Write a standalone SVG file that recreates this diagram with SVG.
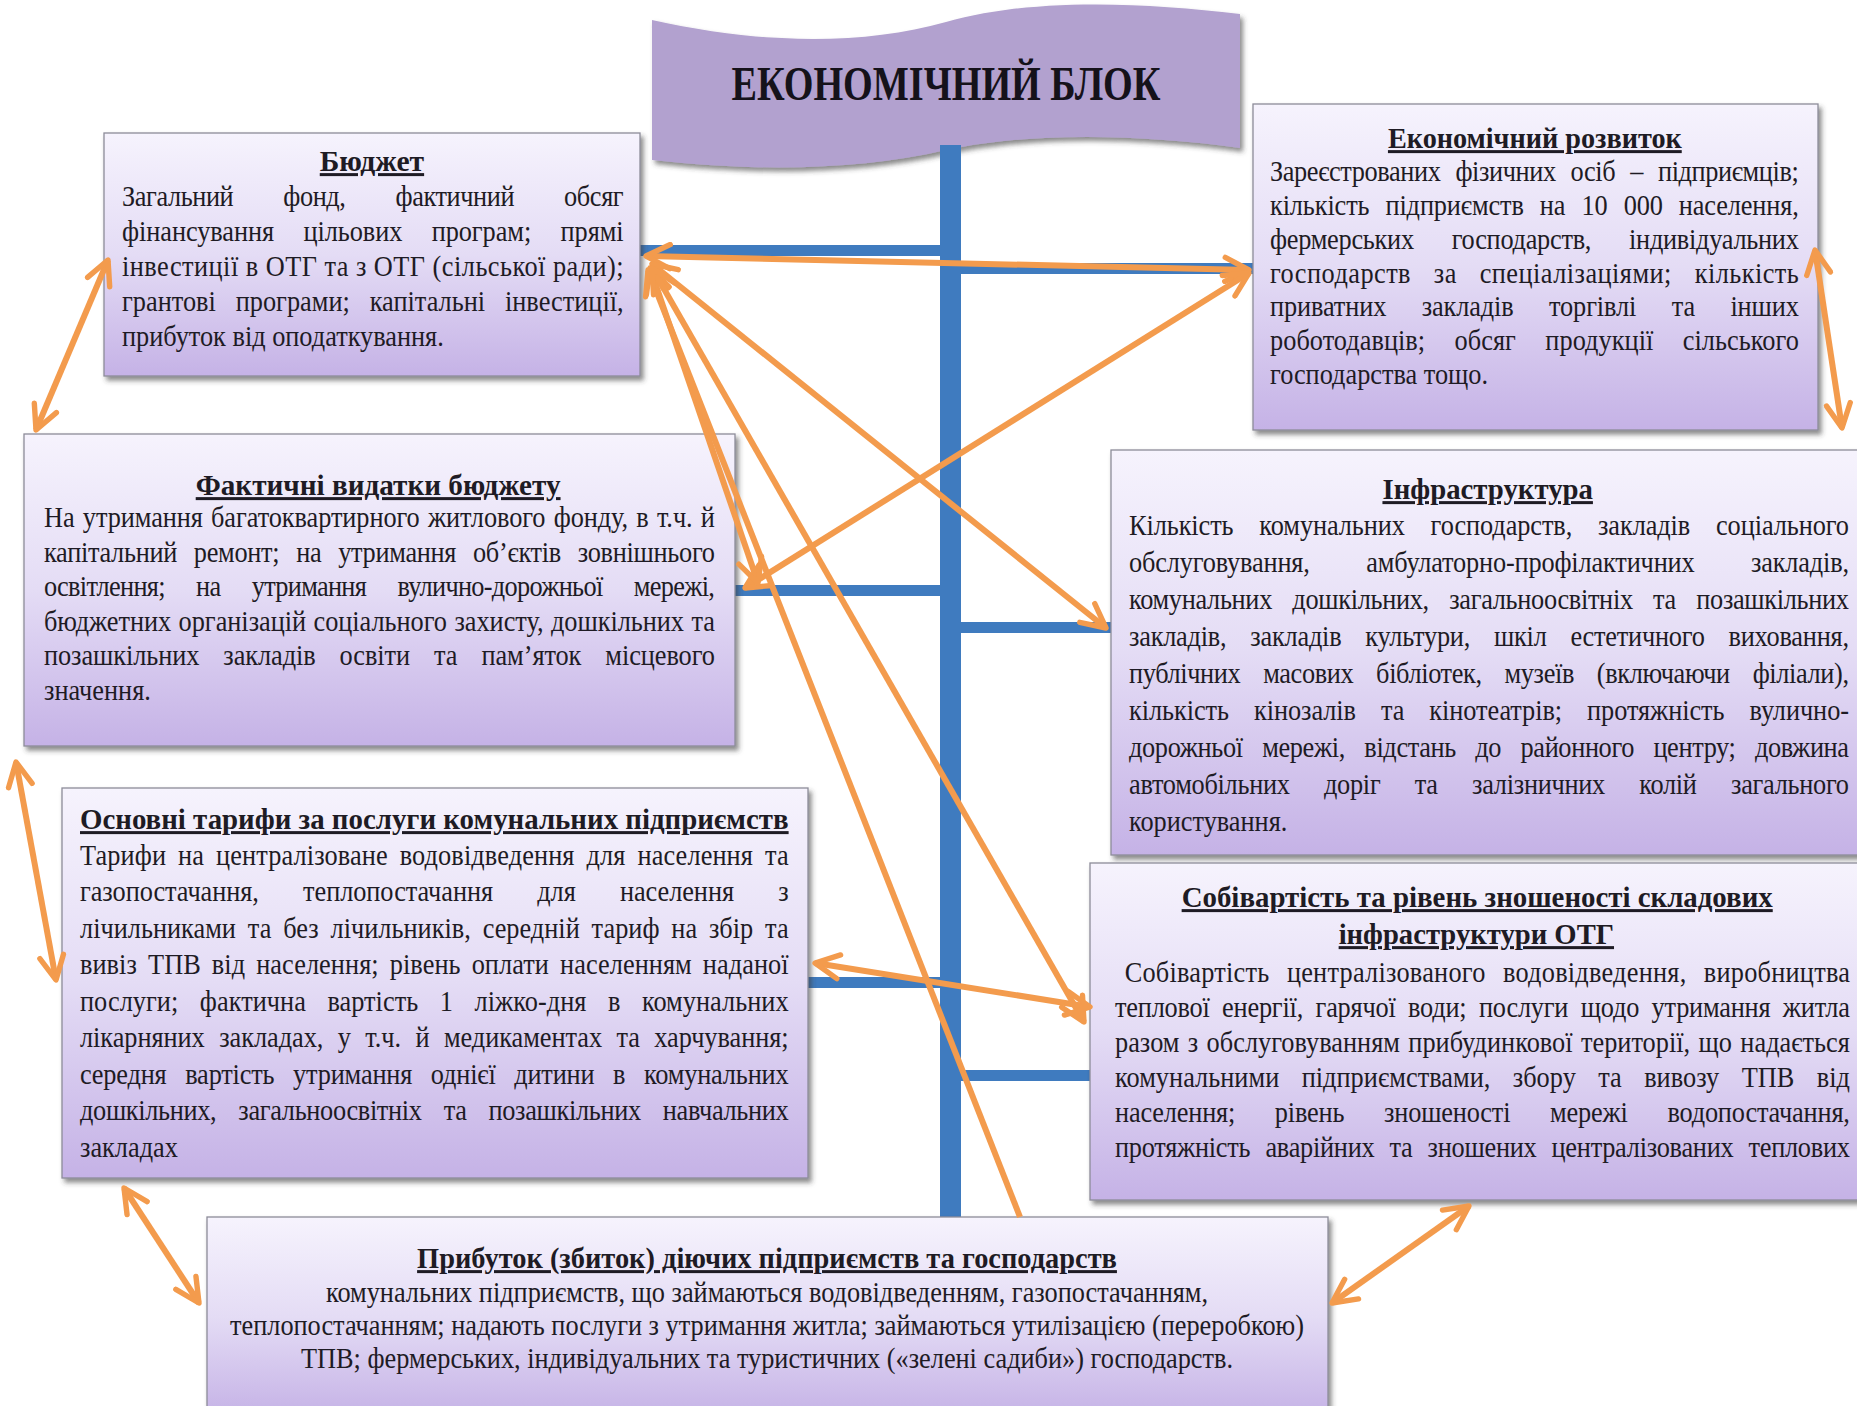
<svg xmlns="http://www.w3.org/2000/svg" width="1857" height="1406" viewBox="0 0 1857 1406">
<defs>
<linearGradient id="boxg" x1="0" y1="0" x2="0" y2="1">
<stop offset="0" stop-color="#f6f3fd"/>
<stop offset="0.5" stop-color="#e4dcf5"/>
<stop offset="1" stop-color="#c5b2e6"/>
</linearGradient>
<filter id="sh" x="-5%" y="-5%" width="112%" height="120%">
<feDropShadow dx="3" dy="4" stdDeviation="2.5" flood-color="#3a3a3a" flood-opacity="0.6"/>
</filter>
<marker id="ah" viewBox="0 0 10 10" refX="9" refY="5" markerWidth="5" markerHeight="5" orient="auto-start-reverse" markerUnits="strokeWidth">
<path d="M1,1 L9,5 L1,9" fill="none" stroke="#f39b4d" stroke-width="1.8" stroke-linecap="round" stroke-linejoin="round"/>
</marker>
<marker id="none" viewBox="0 0 10 10" markerWidth="1" markerHeight="1"/>
</defs>
<style>
.box{fill:url(#boxg);stroke:#8d8c99;stroke-width:1.3;filter:url(#sh)}
.t{font-family:"Liberation Serif","Times New Roman",serif;font-size:30px;fill:#1e1b24}
.h{font-weight:bold;text-decoration:underline}
.blue{fill:#3f7bbf}
.arr{stroke:#f39b4d;stroke-width:6;fill:none;marker-start:url(#ah);marker-end:url(#ah)}
.arr1{stroke:#f39b4d;stroke-width:6;fill:none;marker-start:url(#ah)}
</style>
<rect width="1857" height="1406" fill="#ffffff"/>

<g id="title">
<path d="M652,20 C760,44 860,46 946,22 C1030,-2 1140,2 1240,14 L1240,148 C1140,134 1030,132 946,150 C860,170 760,172 652,160 Z" fill="#b2a1cf" filter="url(#sh)"/>
<text x="946" y="100" text-anchor="middle" font-family="Liberation Serif, Times New Roman, serif" font-size="48" font-weight="bold" fill="#15121a" textLength="429" lengthAdjust="spacingAndGlyphs">ЕКОНОМІЧНИЙ БЛОК</text>
</g>

<g id="spine">
<rect class="blue" x="940" y="145" width="21" height="1075"/>
<rect class="blue" x="640" y="245" width="300" height="11"/>
<rect class="blue" x="961" y="263" width="292" height="11"/>
<rect class="blue" x="735" y="585" width="205" height="11"/>
<rect class="blue" x="961" y="622" width="150" height="11"/>
<rect class="blue" x="808" y="977" width="132" height="11"/>
<rect class="blue" x="961" y="1070" width="129" height="11"/>
</g>

<g id="budget">
<rect class="box" x="104" y="133" width="536" height="243"/>
<g transform="translate(122,0) scale(0.877,1)">
<text class="t h" x="285" y="171" text-anchor="middle" textLength="119" lengthAdjust="spacingAndGlyphs">Бюджет</text>
<text class="t" x="0" y="206" textLength="572" word-spacing="50">Загальний фонд, фактичний обсяг</text>
<text class="t" x="0" y="241" textLength="572" word-spacing="26">фінансування цільових програм; прямі</text>
<text class="t" x="0" y="276" textLength="572">інвестиції в ОТГ та з ОТГ (сільської ради);</text>
<text class="t" x="0" y="311" textLength="572" word-spacing="15">грантові програми; капітальні інвестиції,</text>
<text class="t" x="0" y="346">прибуток від оподаткування.</text>
</g>
</g>

<g id="econ">
<rect class="box" x="1253" y="104" width="565" height="326"/>
<g transform="translate(1270,0) scale(0.877,1)">
<text class="t h" x="302" y="148" text-anchor="middle" textLength="335" lengthAdjust="spacingAndGlyphs">Економічний розвиток</text>
<text class="t" x="0" y="181" textLength="603" word-spacing="10">Зареєстрованих фізичних осіб – підприємців;</text>
<text class="t" x="0" y="215" textLength="603" word-spacing="11">кількість підприємств на 10 000 населення,</text>
<text class="t" x="0" y="249" textLength="603" word-spacing="36">фермерських господарств, індивідуальних</text>
<text class="t" x="0" y="283" textLength="603" word-spacing="18">господарств за спеціалізаціями; кількість</text>
<text class="t" x="0" y="316" textLength="603" word-spacing="33">приватних закладів торгівлі та інших</text>
<text class="t" x="0" y="350" textLength="603" word-spacing="26">роботодавців; обсяг продукції сільського</text>
<text class="t" x="0" y="384">господарства тощо.</text>
</g>
</g>

<g id="actual">
<rect class="box" x="24" y="434" width="711" height="312"/>
<g transform="translate(44,0) scale(0.877,1)">
<text class="t h" x="381" y="495" text-anchor="middle" textLength="416" lengthAdjust="spacingAndGlyphs">Фактичні видатки бюджету</text>
<text class="t" x="0" y="527" textLength="765" word-spacing="2">На утримання багатоквартирного житлового фонду, в т.ч. й</text>
<text class="t" x="0" y="562" textLength="765" word-spacing="12">капітальний ремонт; на утримання об’єктів зовнішнього</text>
<text class="t" x="0" y="596" textLength="765" word-spacing="29">освітлення; на утримання вулично-дорожньої мережі,</text>
<text class="t" x="0" y="631" textLength="765" word-spacing="1">бюджетних організацій соціального захисту, дошкільних та</text>
<text class="t" x="0" y="665" textLength="765" word-spacing="20">позашкільних закладів освіти та пам’яток місцевого</text>
<text class="t" x="0" y="700">значення.</text>
</g>
</g>

<g id="infra">
<rect class="box" x="1111" y="450" width="760" height="405"/>
<g transform="translate(1129,0) scale(0.877,1)">
<text class="t h" x="409" y="499" text-anchor="middle" textLength="240" lengthAdjust="spacingAndGlyphs">Інфраструктура</text>
<text class="t" x="0" y="535" textLength="821" word-spacing="22">Кількість комунальних господарств, закладів соціального</text>
<text class="t" x="0" y="572" textLength="821" word-spacing="57">обслуговування, амбулаторно-профілактичних закладів,</text>
<text class="t" x="0" y="609" textLength="821" word-spacing="16">комунальних дошкільних, загальноосвітніх та позашкільних</text>
<text class="t" x="0" y="646" textLength="821" word-spacing="20">закладів, закладів культури, шкіл естетичного виховання,</text>
<text class="t" x="0" y="683" textLength="821" word-spacing="19">публічних масових бібліотек, музеїв (включаючи філіали),</text>
<text class="t" x="0" y="720" textLength="821" word-spacing="21">кількість кінозалів та кінотеатрів; протяжність вулично-</text>
<text class="t" x="0" y="757" textLength="821" word-spacing="15">дорожньої мережі, відстань до районного центру; довжина</text>
<text class="t" x="0" y="794" textLength="821" word-spacing="32">автомобільних доріг та залізничних колій загального</text>
<text class="t" x="0" y="831">користування.</text>
</g>
</g>

<g id="tariffs">
<rect class="box" x="62" y="788" width="746" height="390"/>
<g transform="translate(80,0) scale(0.877,1)">
<text class="t h" x="0" y="829" textLength="808" lengthAdjust="spacingAndGlyphs">Основні тарифи за послуги комунальних підприємств</text>
<text class="t" x="0" y="865" textLength="808" word-spacing="6">Тарифи на централізоване водовідведення для населення та</text>
<text class="t" x="0" y="901" textLength="808" word-spacing="43">газопостачання, теплопостачання для населення з</text>
<text class="t" x="0" y="938" textLength="808" word-spacing="6">лічильниками та без лічильників, середній тариф на збір та</text>
<text class="t" x="0" y="974" textLength="808" word-spacing="5">вивіз ТПВ від населення; рівень оплати населенням наданої</text>
<text class="t" x="0" y="1011" textLength="808" word-spacing="17">послуги; фактична вартість 1 ліжко-дня в комунальних</text>
<text class="t" x="0" y="1047" textLength="808" word-spacing="9">лікарняних закладах, у т.ч. й медикаментах та харчування;</text>
<text class="t" x="0" y="1084" textLength="808" word-spacing="14">середня вартість утримання однієї дитини в комунальних</text>
<text class="t" x="0" y="1120" textLength="808" word-spacing="18">дошкільних, загальноосвітніх та позашкільних навчальних</text>
<text class="t" x="0" y="1157">закладах</text>
</g>
</g>

<g id="cost">
<rect class="box" x="1090" y="863" width="780" height="337"/>
<g transform="translate(1115,0) scale(0.877,1)">
<text class="t h" x="413" y="907" text-anchor="middle" textLength="674" lengthAdjust="spacingAndGlyphs">Собівартість та рівень зношеності складових</text>
<text class="t h" x="412" y="944" text-anchor="middle" textLength="314" lengthAdjust="spacingAndGlyphs">інфраструктури ОТГ</text>
<text class="t" x="11" y="982" textLength="827" word-spacing="12">Собівартість централізованого водовідведення, виробництва</text>
<text class="t" x="0" y="1017" textLength="838" word-spacing="7">теплової енергії, гарячої води; послуги щодо утримання житла</text>
<text class="t" x="0" y="1052" textLength="838" word-spacing="2">разом з обслуговуванням прибудинкової території, що надається</text>
<text class="t" x="0" y="1087" textLength="838" word-spacing="18">комунальними підприємствами, збору та вивозу ТПВ від</text>
<text class="t" x="0" y="1122" textLength="838" word-spacing="38">населення; рівень зношеності мережі водопостачання,</text>
<text class="t" x="0" y="1157" textLength="838" word-spacing="10">протяжність аварійних та зношених централізованих теплових</text>
</g>
</g>

<g id="profit">
<rect class="box" x="207" y="1217" width="1121" height="200"/>
<g transform="translate(767,0) scale(0.877,1)">
<text class="t h" x="0" y="1268" text-anchor="middle" textLength="798" lengthAdjust="spacingAndGlyphs">Прибуток (збиток) діючих підприємств та господарств</text>
<text class="t" x="0" y="1302" text-anchor="middle">комунальних підприємств, що займаються водовідведенням, газопостачанням,</text>
<text class="t" x="0" y="1335" text-anchor="middle">теплопостачанням; надають послуги з утримання житла; займаються утилізацією (переробкою)</text>
<text class="t" x="0" y="1368" text-anchor="middle">ТПВ; фермерських, індивідуальних та туристичних («зелені садиби») господарств.</text>
</g>
</g>

<g id="connectors">
<line class="arr" x1="646" y1="256" x2="1249" y2="270"/>
<line class="arr" x1="1249" y1="273" x2="745" y2="588"/>
<line class="arr" x1="652" y1="264" x2="1106" y2="628"/>
<line class="arr" x1="650" y1="268" x2="758" y2="583"/>
<line class="arr1" x1="648" y1="270" x2="1020" y2="1217"/>
<line class="arr" x1="652" y1="268" x2="1084" y2="1022"/>
<line class="arr" x1="108" y1="260" x2="36" y2="430"/>
<line class="arr" x1="16" y1="762" x2="56" y2="980"/>
<line class="arr" x1="124" y1="1188" x2="199" y2="1303"/>
<line class="arr" x1="1332" y1="1303" x2="1469" y2="1206"/>
<line class="arr" x1="1815" y1="250" x2="1842" y2="428"/>
<line class="arr" x1="815" y1="963" x2="1090" y2="1007"/>
</g>
</svg>
